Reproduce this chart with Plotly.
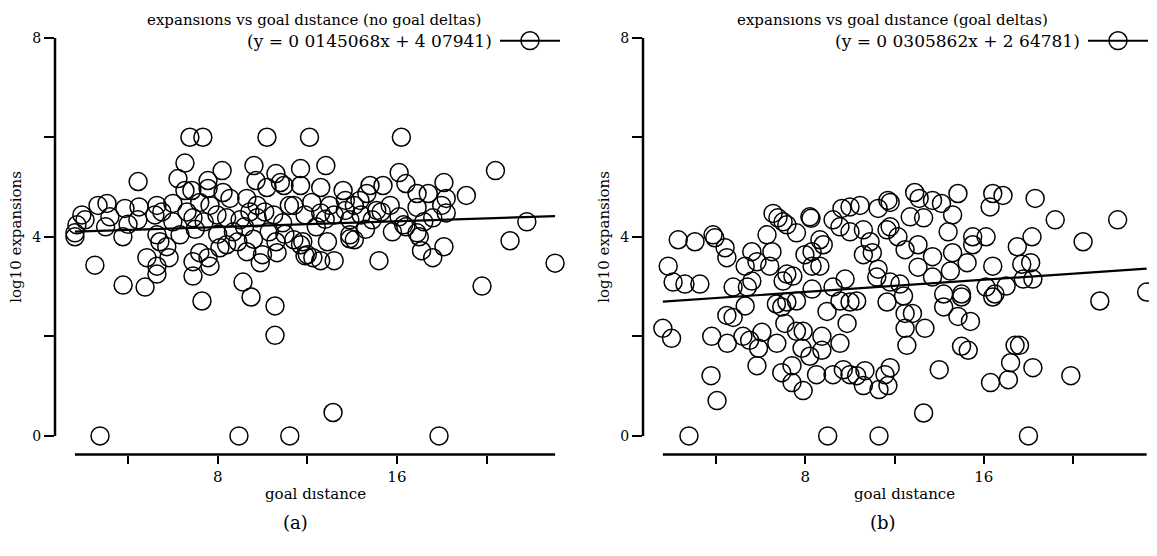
import plotly.graph_objects as go

W, H = 1157, 556
OFF = 8  # the page body adds an 8 px margin; positions below are in screen pixels

# ---------------- data ----------------
# (a) no goal deltas
a_x = [2.75, 8.95, 11.22, 17.88, 13.15,
       10.56, 10.56, 9.49, 9.13, 7.3, 2.52, 3.78, 4.76, 19.8, 23.06,
       6.76, 7.34, 10.2, 12.1, 16.2,
       6.54, 9.62, 8.2, 4.45, 6.23, 7.57, 9.71, 10.6, 10.8, 10.96, 11.7, 11.7, 12.83, 16.1, 20.4,
       12.6, 13.6, 14.8, 14.66, 15.38, 16.4, 16.9, 17.4, 19.1, 18.1,
       11.2, 6.54, 6.85, 7.57, 8.24, 7.2, 8.55, 9.3, 10.2, 9.76, 10.1, 2.66, 3.06, 3.86, 4.49,
       5.29, 5.51, 6.0, 1.94, 2.08, 3.19, 4.44, 5.2, 6.63, 6.9, 7.66, 7.97, 8.4, 9.0, 9.44,
       9.76, 10.5, 10.9, 11.4, 11.9,
       16.9, 18.2, 18.0, 18.2, 17.6, 16.1, 16.3, 16.4, 16.9, 15.3, 15.7, 15.1, 21.8, 12.2, 12.6,
       13.0, 13.2, 13.7, 13.9, 14.1, 14.35, 13.7, 14.4, 14.9,
       1.63, 1.72, 5.29, 6.32, 1.63, 3.77, 12.9, 13.9, 14.1, 11.8, 13.9, 17.0, 21.05,
       4.84, 5.29, 5.29, 5.83, 5.42, 5.73, 6.9, 6.9, 7.2, 7.66, 7.57, 8.1, 8.4, 8.9, 9.3,
       10.0, 9.9, 10.65, 11.4, 11.7, 12.0, 12.25, 12.6, 11.9, 13.2, 15.2, 17.1, 17.6, 18.1,
       8.7, 9.2, 10.3, 7.0, 8.0, 11.0, 12.4, 15.8, 3.0, 4.0, 6.0, 7.4, 10.6, 9.6, 12.8, 14.6, 17.2]
a_y = [0.0, 0.0, 0.0, 0.0, 0.47,
       2.02, 2.61, 2.79, 3.09, 2.71, 3.43, 3.03, 2.99, 3.01, 3.47,
       6.0, 6.0, 6.0, 6.0, 6.0,
       5.48, 5.43, 5.33, 5.11, 5.17, 5.13, 5.13, 5.27, 5.09, 5.03, 5.37, 5.03, 5.43, 5.29, 5.33,
       4.99, 4.93, 5.03, 4.87, 5.03, 5.07, 4.87, 4.87, 4.83, 5.09,
       4.63, 4.93, 4.93, 4.97, 4.89, 4.69, 4.77, 4.77, 4.99, 4.63, 4.5, 4.63, 4.67, 4.57, 4.6,
       4.63, 4.5, 4.67, 4.44, 4.34, 4.4, 4.34, 4.44, 4.5, 4.38, 4.63, 4.44, 4.38, 4.34, 4.5,
       4.38, 4.44, 4.28, 4.63, 4.44,
       4.59, 4.77, 4.63, 4.48, 4.38, 4.4, 4.24, 4.2, 4.08, 4.5, 4.63, 4.53, 4.3, 4.69, 4.48,
       4.63, 4.44, 4.53, 4.34, 4.63, 4.73, 4.73, 4.44, 4.34,
       4.08, 4.24, 4.04, 4.04, 4.0, 4.0, 3.9, 4.04, 3.94, 3.9, 3.96, 4.0, 3.92,
       3.58, 3.41, 3.25, 3.58, 3.9, 3.8, 3.21, 3.5, 3.68, 3.41, 3.58, 3.78, 3.84, 3.9, 3.7,
       3.64, 3.48, 3.68, 3.94, 3.84, 3.64, 3.58, 3.52, 3.62, 3.52, 3.52, 3.72, 3.58, 3.8,
       4.1, 4.2, 4.1, 4.15, 4.05, 4.05, 4.2, 4.1, 4.2, 4.25, 4.3, 4.3, 3.9, 3.95, 4.35, 4.15, 4.3]

# (b) goal deltas
b_x = [2.78, 9.0, 11.3, 18.0, 13.3, 4.04,
       1.61, 2.0, 3.8, 4.5, 3.77, 4.48, 4.76, 5.3, 5.2, 5.5, 6.05, 5.9, 5.83, 6.72, 6.94,
       7.4, 7.4, 7.9, 7.08, 6.94, 7.17, 7.6, 7.9, 7.85, 8.2, 8.74, 8.74, 8.5, 8.97, 9.55,
       9.87, 9.24, 9.7, 10.0, 10.3, 10.6, 10.67, 11.3, 11.57, 9.55, 10.0, 10.3, 6.7, 7.6,
       1.85, 2.3, 3.05, 3.86, 3.94, 4.4, 4.48, 2.07, 2.6, 3.27, 4.76, 5.3, 5.6, 5.83, 6.28,
       6.5, 6.4, 6.55, 6.77, 7.0, 7.17, 7.6, 8.2, 8.25, 8.3, 7.98, 8.65, 8.8, 8.3, 8.65,
       7.17, 7.44, 7.0, 5.6, 5.4, 9.24, 9.64, 10.0, 10.45, 11.26, 11.7, 9.55, 10.0, 10.6,
       10.9, 10.6, 11.0, 11.26, 11.2, 9.78, 9.24, 8.3, 11.66,
       12.9, 11.8, 13.7, 14.84, 13.1, 14.1, 16.4, 16.86, 16.28, 18.3, 19.2, 22.0, 20.45,
       18.16, 17.5, 17.7, 18.1, 17.77, 18.2, 16.4, 16.1, 15.5, 15.5, 14.6, 14.4, 14.6,
       15.25, 14.5, 13.7, 13.05, 13.7, 13.05, 12.47, 12.15, 11.8, 12.7, 13.3, 11.8, 12.24,
       14.2, 15.0, 16.1, 16.5, 17.0, 21.2, 23.3, 12.4,
       11.66, 12.47, 12.8, 12.47, 12.55, 13.36, 14.2, 15.0, 14.84, 15.4, 15.0, 15.3, 14.0,
       11.8, 11.7, 16.3, 17.1, 17.2, 17.4, 17.6, 18.2, 19.9, 16.4]
b_y = [0.0, 0.0, 0.0, 0.0, 0.46, 0.71,
       2.16, 1.96, 2.0, 1.86, 1.21, 2.42, 2.38, 2.61, 2.0, 1.92, 2.08, 1.76, 1.41, 1.86, 1.27,
       1.41, 1.07, 0.91, 2.26, 2.59, 2.69, 2.1, 2.1, 1.76, 1.6, 2.0, 1.72, 1.23, 2.5, 1.86,
       2.26, 1.23, 1.33, 1.23, 1.21, 1.01, 1.31, 0.93, 1.23, 2.71, 2.69, 2.71, 2.65, 2.71,
       3.41, 3.94, 3.9, 4.04, 3.98, 3.78, 3.58, 3.09, 3.05, 3.05, 2.99, 3.41, 3.7, 3.5, 4.04,
       3.7, 3.41, 4.47, 4.38, 4.3, 4.24, 4.08, 4.4, 4.37, 3.7, 3.64, 3.94, 3.84, 3.41, 3.41,
       3.25, 3.21, 3.11, 3.11, 2.99, 4.34, 4.57, 4.6, 4.63, 4.57, 4.73, 4.2, 4.1, 4.14,
       3.9, 3.64, 3.68, 3.35, 3.19, 3.15, 2.99, 2.95, 4.14,
       4.89, 4.69, 4.73, 4.87, 4.77, 4.67, 4.87, 4.83, 4.6, 4.77, 4.34, 4.34, 3.9,
       4.0, 3.8, 3.45, 3.48, 3.15, 3.15, 3.41, 4.0, 4.0, 3.84, 4.44, 4.1, 3.68,
       3.48, 3.31, 3.6, 3.39, 3.19, 3.84, 3.74, 4.0, 4.2, 4.4, 4.38, 3.09, 3.05,
       2.85, 2.85, 2.99, 2.85, 3.01, 2.71, 2.89, 2.81,
       2.69, 2.46, 2.46, 2.16, 1.82, 2.16, 2.59, 2.79, 2.4, 2.3, 1.8, 1.72, 1.33,
       1.37, 1.01, 1.07, 1.13, 1.47, 1.82, 1.82, 1.37, 1.21, 2.79]

# fitted lines (coefficients from the legend)
a_slope, a_icpt = 0.0145068, 4.07941
b_slope, b_icpt = 0.0305862, 2.64781

titles = ["expansıons vs goal dıstance (no goal deltas)", "expansıons vs goal dıstance (goal deltas)"]
fit_labels = ["(y = 0 0145068x + 4 07941)", "(y = 0 0305862x + 2 64781)"]
captions = ["(a)", "(b)"]
x_tickvals = [4, 8, 12, 16, 20]
x_ticktext = ["", "8", "", "16", ""]
y_tickvals = [0, 2, 4, 6, 8]
y_ticktext = ["0", "", "4", "", "8"]

# ---------------- figure ----------------
FONT = "DejaVu Serif"
fig = go.Figure()


def px(x):
    return (x - OFF) / W


def py(y):
    return 1 - (y - OFF) / H


panels = [
    dict(x=a_x, y=a_y, m=a_slope, c=a_icpt, xa="x", ya="y", xd=(55, 560), xr=(0.74, 23.28), tc=314),
    dict(x=b_x, y=b_y, m=b_slope, c=b_icpt, xa="x2", ya="y2", xd=(643, 1148), xr=(0.72, 23.36), tc=892),
]

ydom = (py(453), py(30))
yr = (-0.376, 8.0)

for i, p in enumerate(panels):
    fig.add_trace(go.Scatter(
        x=p["x"], y=p["y"], mode="markers", xaxis=p["xa"], yaxis=p["ya"],
        marker=dict(symbol="circle-open", size=18, color="black", line=dict(width=1.5, color="black")),
        showlegend=False, cliponaxis=False, hoverinfo="skip"))
    x0, x1 = min(p["x"]), max(p["x"])
    fig.add_trace(go.Scatter(
        x=[x0, x1], y=[p["m"] * x0 + p["c"], p["m"] * x1 + p["c"]], mode="lines",
        xaxis=p["xa"], yaxis=p["ya"], line=dict(color="black", width=2.2),
        showlegend=False, hoverinfo="skip"))

    sfx = "" if i == 0 else "2"
    fig.update_layout(**{
        "xaxis" + sfx: dict(domain=[px(p["xd"][0]), px(p["xd"][1])], range=list(p["xr"]),
                            anchor="y" + sfx, showgrid=False, zeroline=False, showline=False,
                            tickmode="array", tickvals=x_tickvals, ticktext=x_ticktext,
                            ticks="outside", ticklen=8, tickwidth=1.6, tickcolor="black",
                            tickfont=dict(family=FONT, size=15, color="black")),
        "yaxis" + sfx: dict(domain=list(ydom), range=list(yr), anchor="x" + sfx,
                            showgrid=False, zeroline=False, showline=False,
                            tickmode="array", tickvals=y_tickvals, ticktext=y_ticktext,
                            ticks="outside", ticklen=10, tickwidth=1.6, tickcolor="black",
                            tickfont=dict(family=FONT, size=14, color="black")),
    })
    # range-frame axis lines
    fig.add_shape(type="line", xref=p["xa"] + " domain", yref=p["ya"], x0=0, x1=0, y0=0, y1=8,
                  line=dict(color="black", width=2.5))
    fig.add_shape(type="line", xref=p["xa"], yref=p["ya"] + " domain", x0=x0, x1=x1, y0=0, y1=0,
                  line=dict(color="black", width=2.5))

    # legend key: line with an open circle
    xe = p["xd"][1]
    ly = py(33)
    fig.add_shape(type="line", xref="paper", yref="paper", x0=px(xe - 60), x1=px(xe), y0=ly, y1=ly,
                  line=dict(color="black", width=2))
    fig.add_shape(type="circle", xref="paper", yref="paper",
                  x0=px(xe - 39), x1=px(xe - 21), y0=py(42), y1=py(24),
                  line=dict(color="black", width=1.5))

    fig.add_annotation(text=titles[i], xref="paper", yref="paper", x=px(p["tc"]), y=py(12),
                       showarrow=False, xanchor="center", yanchor="middle",
                       font=dict(family=FONT, size=15, color="black"))
    fig.add_annotation(text=fit_labels[i], xref="paper", yref="paper", x=px(xe - 66), y=ly,
                       showarrow=False, xanchor="right", yanchor="middle",
                       font=dict(family=FONT, size=17, color="black"))
    fig.add_annotation(text="goal dıstance", xref=p["xa"], yref="paper", x=(x0 + x1) / 2, y=py(493),
                       showarrow=False, xanchor="center", yanchor="middle",
                       font=dict(family=FONT, size=15, color="black"))
    fig.add_annotation(text="log10 expansions", xref="paper", yref=p["ya"], x=px(p["xd"][0] - 39), y=4,
                       textangle=-90, showarrow=False, xanchor="center", yanchor="middle",
                       font=dict(family=FONT, size=15, color="black"))
    fig.add_annotation(text=captions[i], xref="paper", yref="paper", x=px(p["xd"][0] + 240), y=py(522),
                       showarrow=False, xanchor="center", yanchor="middle",
                       font=dict(family=FONT, size=18, color="black"))

fig.update_layout(
    width=W, height=H, margin=dict(l=0, r=0, t=0, b=0),
    paper_bgcolor="white", plot_bgcolor="white", showlegend=False,
)

fig.write_html("out.html")
